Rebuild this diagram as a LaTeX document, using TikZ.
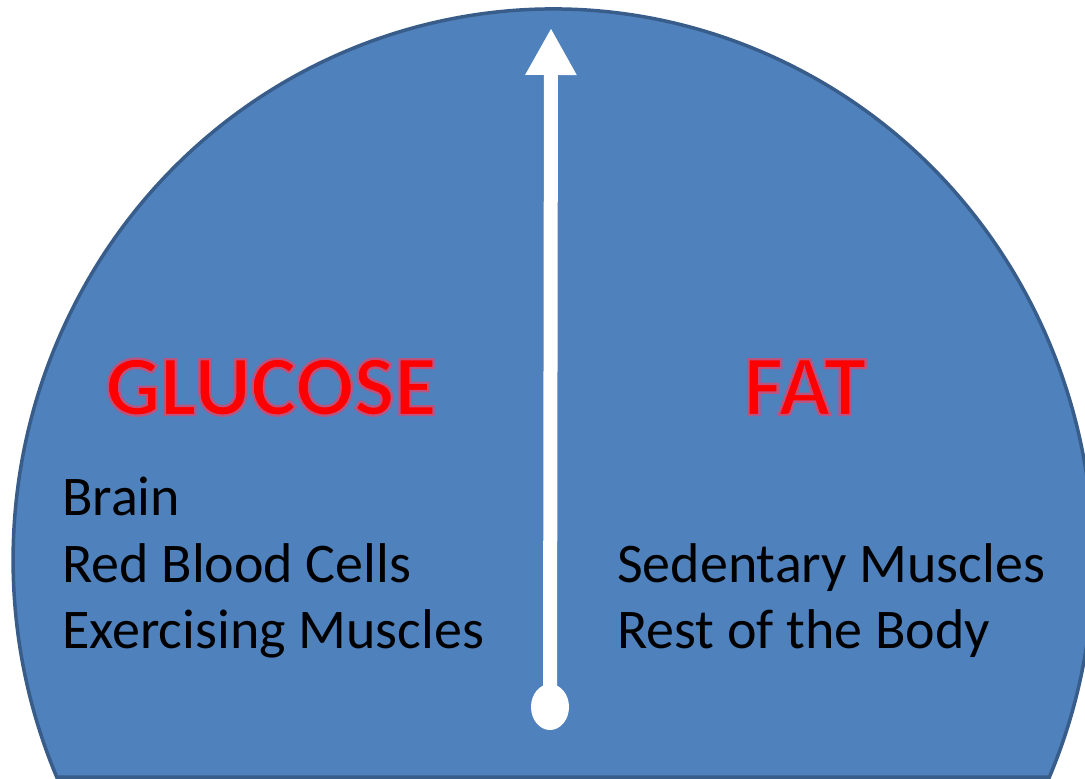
\documentclass[tikz,border=0pt]{standalone}
\usepackage{fontspec}
\setmainfont{Carlito}
\usetikzlibrary{arrows.meta,shapes.geometric}
\definecolor{domefill}{HTML}{4F81BD}
\definecolor{domeline}{HTML}{385D8A}
\newcommand{\glowtext}[1]{\special{pdf:code q 2 Tr 0.72 0.33 0.50 RG 2.4 w}#1\special{pdf:code Q}}
\tikzset{
  head/.style={anchor=base, text=red, font=\fontsize{86}{98}\bfseries\selectfont, inner sep=0pt},
  item/.style={anchor=base west, text=black, font=\fontsize{56}{66}\selectfont, inner sep=0pt},
}
\begin{document}
\begin{tikzpicture}[x=1pt,y=-1pt]
\useasboundingbox (0,0) rectangle (1085,779);
\clip (0,0) rectangle (1085,779);
% dome
\draw[fill=domefill, draw=domeline, line width=3.5pt, line join=miter]
  (1049.4,777) arc[start angle=-23.19, end angle=203.19, x radius=540pt, y radius=551pt] -- cycle;
% gauge needle
\node[ellipse, fill=white, minimum width=38pt, minimum height=46pt, inner sep=0pt] (knob) at (550,707) {};
\coordinate (tip) at (551,28);
\draw[white, line width=14pt, -{Triangle[width=48pt,length=47pt]}] (knob.center) -- (tip);
% headings
\node[head] (glucose) at (271,415) {\glowtext{GLUCOSE}};
\node[head] (fat) at (805,415) {\glowtext{FAT}};
% items
\node[item] (brain) at (62,515) {Brain};
\node[item] (rbc) at (62,582) {Red Blood Cells};
\node[item] (exm) at (62,648) {Exercising Muscles};
\node[item] (sed) at (617,582) {Sedentary Muscles};
\node[item] (rest) at (617,648) {Rest of the Body};
\end{tikzpicture}
\end{document}
